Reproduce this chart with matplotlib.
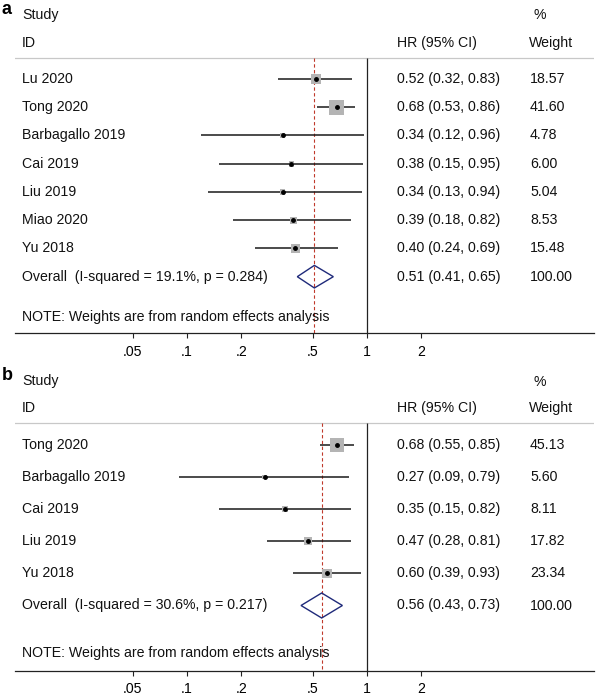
import matplotlib
matplotlib.use("Agg")
import matplotlib.pyplot as plt
from matplotlib.transforms import blended_transform_factory
from matplotlib.patches import Polygon

plt.rcParams['font.family'] = ['Liberation Sans', 'DejaVu Sans']

# ---------------- data ----------------
studies_a = ["Lu 2020", "Tong 2020", "Barbagallo 2019", "Cai 2019", "Liu 2019", "Miao 2020", "Yu 2018"]
hr_a = [0.52, 0.68, 0.34, 0.38, 0.34, 0.39, 0.40]
lo_a = [0.32, 0.53, 0.12, 0.15, 0.13, 0.18, 0.24]
hi_a = [0.83, 0.86, 0.96, 0.95, 0.94, 0.82, 0.69]
wt_a = [18.57, 41.60, 4.78, 6.00, 5.04, 8.53, 15.48]
overall_a = [0.51, 0.41, 0.65]
i2_a, p_a = 19.1, 0.284

studies_b = ["Tong 2020", "Barbagallo 2019", "Cai 2019", "Liu 2019", "Yu 2018"]
hr_b = [0.68, 0.27, 0.35, 0.47, 0.60]
lo_b = [0.55, 0.09, 0.15, 0.28, 0.39]
hi_b = [0.85, 0.79, 0.82, 0.81, 0.93]
wt_b = [45.13, 5.60, 8.11, 17.82, 23.34]
overall_b = [0.56, 0.43, 0.73]
i2_b, p_b = 30.6, 0.217

tick_vals = [0.05, 0.1, 0.2, 0.5, 1, 2]
tick_labels = [".05", ".1", ".2", ".5", "1", "2"]

# ---------------- layout (pixels) ----------------
W, H = 596, 696
X0, X1 = 15, 594
X_ONE = 367
PX_PER_DEC = 180
xlim = (10 ** ((X0 - X_ONE) / PX_PER_DEC), 10 ** ((X1 - X_ONE) / PX_PER_DEC))
FS = 10.2

fig = plt.figure(figsize=(W / 100, H / 100), dpi=100)


def px2ax(px):
    return (px - X0) / (X1 - X0)


def panel(letter, top, bottom, y_study, y_id, y_line, y_first, step, y_note,
          box_k, dia_h, studies, hr, lo, hi, wt, overall, i2, p):
    ax = fig.add_axes([X0 / W, 1 - bottom / H, (X1 - X0) / W, (bottom - top) / H])
    ax.set_xscale('log')
    ax.set_xlim(xlim)
    ax.set_ylim(bottom, top)
    for s in ['top', 'left', 'right']:
        ax.spines[s].set_visible(False)
    ax.spines['bottom'].set_linewidth(0.9)
    ax.spines['bottom'].set_color('#222222')
    ax.set_yticks([])
    ax.set_xticks(tick_vals)
    ax.set_xticklabels(tick_labels)
    ax.xaxis.set_minor_locator(matplotlib.ticker.NullLocator())
    ax.tick_params(axis='x', direction='out', length=3.6, width=0.8, pad=4.5,
                   labelsize=FS, color='#222222')
    ax.patch.set_alpha(0)

    tr = blended_transform_factory(ax.transAxes, ax.transData)
    kw = dict(transform=tr, fontsize=FS, va='center', ha='left', clip_on=False,
              color='#111111')

    ax.text(px2ax(1.5), y_study - 6, letter, transform=tr, fontsize=13, fontweight='bold',
            va='center', ha='left', clip_on=False)
    ax.text(px2ax(22), y_study, "Study", **kw)
    ax.text(px2ax(22), y_id, "ID", **kw)
    ax.text(px2ax(533), y_study, "%", **kw)
    ax.text(px2ax(397), y_id, "HR (95% CI)", **kw)
    ax.text(px2ax(529), y_id, "Weight", **kw)
    ax.axhline(y_line, color='#c8c8c8', lw=0.9, zorder=1)

    # reference lines
    ax.vlines(1, y_line, bottom, color='#222222', lw=0.9, zorder=2)
    ax.vlines(overall[0], y_line, bottom, color='#c0392b', lw=0.8,
              linestyles=(0, (3, 2.2)), zorder=2)

    n = len(studies)
    ys = [y_first + i * step for i in range(n)]
    for i in range(n):
        y = ys[i]
        ax.hlines(y, lo[i], hi[i], color='#1a1a1a', lw=1.1, zorder=3)
        side_pt = box_k * wt[i] ** 0.5 * 0.72
        ax.scatter([hr[i]], [y], s=side_pt ** 2, marker='s', color='#b4b4b4',
                   edgecolors='none', zorder=4)
        ax.plot([hr[i]], [y], 'o', color='black', ms=2.5, zorder=5)
        ax.text(px2ax(22), y, studies[i], **kw)
        ax.text(px2ax(397), y, f"{hr[i]:.2f} ({lo[i]:.2f}, {hi[i]:.2f})", **kw)
        ax.text(px2ax(530), y, f"{wt[i]:.2f}", **kw)

    yo = y_first + n * step
    est, olo, ohi = overall
    dia = Polygon([(olo, yo), (est, yo - dia_h), (ohi, yo), (est, yo + dia_h)],
                  closed=True, fill=False, edgecolor='#1f2a7a', lw=1.0, zorder=4)
    ax.add_patch(dia)
    ax.text(px2ax(22), yo, f"Overall  (I-squared = {i2:.1f}%, p = {p:.3f})", **kw)
    ax.text(px2ax(397), yo, f"{est:.2f} ({olo:.2f}, {ohi:.2f})", **kw)
    ax.text(px2ax(530), yo, f"{100:.2f}", **kw)
    ax.text(px2ax(22), y_note, "NOTE: Weights are from random effects analysis", **kw)
    return ax


panel("a", 0, 333.3, 15, 42.7, 58.3, 79, 28.24, 316.7, 2.28, 11.3,
      studies_a, hr_a, lo_a, hi_a, wt_a, overall_a, i2_a, p_a)
panel("b", 364, 671, 381.5, 408, 422.7, 445, 32.1, 653.3, 1.98, 12.5,
      studies_b, hr_b, lo_b, hi_b, wt_b, overall_b, i2_b, p_b)

fig.savefig("out.png", dpi=100)
